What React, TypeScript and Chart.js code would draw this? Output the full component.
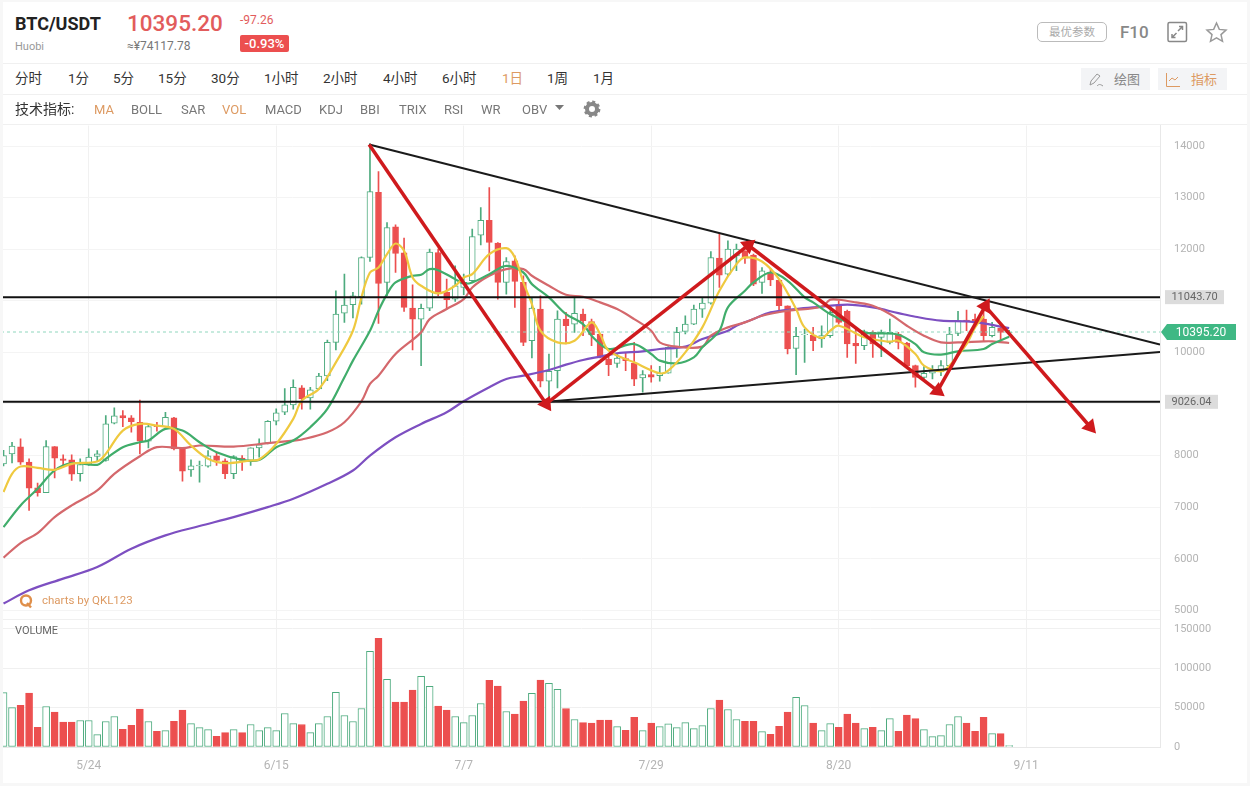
import { useEffect, useRef } from "react";
import { Chart, registerables } from "chart.js";

Chart.register(...registerables);

// one candle per day, index 0 = 5/14, last = 9/9
const opens = [7840,8034,8169,7872,7376,7279,8175,7937,7917,7647,7840,7982,7904,8627,8775,8730,8646,8279,8582,8562,8730,8150,7724,7801,7795,7995,7898,7647,7950,7904,8150,8246,8666,8840,8982,9311,9118,9292,9543,10195,10762,10924,11078,11840,13104,11356,12433,11930,10859,10646,10859,11936,11162,11033,11259,11388,12272,12562,12117,11356,11775,11356,10227,10840,9440,9646,10646,10549,10743,10595,10356,9872,9788,9879,9788,9505,9569,9550,9595,10098,10408,10549,10840,10956,11827,11517,11872,11969,11885,11356,11549,11401,10904,10079,10343,10337,10259,10324,10904,10795,10175,10130,10388,10292,10195,10356,10182,9743,9517,9595,9627,9743,10369,10627,10640,10646,10324,10470,10380];
const highs = [8100,8259,8324,7937,7466,8291,8175,8014,8014,7937,8130,8098,8775,8924,8872,8775,9078,8614,8646,8840,8743,8150,7917,7892,8098,8053,7937,8001,8001,8150,8324,8678,8904,9300,9466,9356,9324,9595,10240,11195,11517,11162,11852,14045,13504,12517,12472,12214,11311,10936,12001,12001,11420,11678,11517,12388,12807,13194,12130,11840,11872,11485,11065,11098,9969,10808,10775,11078,10840,10646,10356,9937,9969,10001,10195,9646,9743,9730,10111,10485,10711,10917,11053,11956,12304,12162,12098,11969,11904,11646,11614,11420,10904,10485,10453,10485,10517,10808,11001,10820,10485,10433,10420,10433,10646,10388,10195,9756,9724,9743,9840,10485,10795,10820,10743,10936,10582,10517,10430];
const lows = [7800,7859,7827,6937,7214,7279,7569,7808,7517,7505,7808,7892,7892,8614,8562,8453,8033,8150,8472,8550,8111,7505,7595,7485,7775,7808,7550,7550,7711,7808,7969,8227,8595,8794,8900,8900,8900,9280,9453,10047,10582,10666,10936,11762,10562,11098,11549,10795,10046,9743,10808,11100,10840,10988,11117,11356,12085,11581,11033,11130,10872,10130,9892,9330,9130,9311,10162,10388,10324,10130,9892,9550,9711,9646,9356,9227,9421,9440,9595,9904,10356,10536,10678,10936,11259,11485,11582,11723,11291,11143,11291,10775,9969,9569,9808,10033,10098,10292,10549,9904,9788,10053,9904,9918,10162,10066,9711,9324,9453,9485,9550,9711,10324,10420,10504,10227,10300,10227,10360];
const closes = [8000,8182,7872,7369,7279,8175,7950,7904,7640,7827,7969,8033,8614,8769,8730,8659,8279,8562,8562,8743,8130,7698,7801,7814,7995,7904,7647,7982,7904,8150,8208,8666,8827,8982,9324,9098,9272,9543,10195,10743,10917,11098,11840,13117,11336,12420,11917,10872,10646,10853,11943,11149,11020,11291,11356,12246,12562,12130,11356,11762,11375,10195,10859,9440,9634,10646,10517,10756,10614,10343,9904,9763,9892,9840,9479,9569,9518,9601,10098,10388,10549,10840,10956,11840,11498,12001,12001,11827,11323,11582,11407,10904,10066,10311,10356,10227,10324,10775,10582,10162,10124,10356,10162,10388,10388,10195,9743,9517,9595,9646,9743,10356,10614,10601,10582,10324,10485,10388,10395.2];
const volumes = [69000,50000,53000,68400,25000,51400,44200,31500,31500,33600,33600,15700,32300,38700,22500,27600,48000,32300,20000,20800,32700,46750,29750,24650,22100,13600,18300,22100,18300,28500,20800,24650,20800,42500,29750,28500,18300,29750,38700,69300,40000,32300,48900,121500,138000,85900,57000,57000,72250,89700,76900,51850,46750,38700,31000,40000,55250,84600,77350,45000,41650,58200,68000,85000,80750,73100,48900,34850,31000,30200,34000,34000,25900,21250,37800,20800,30200,25900,29300,24650,31000,23400,27200,48900,59500,47600,34850,32700,32700,19550,16150,26350,44200,62900,52700,30200,20800,29750,25000,41650,30200,23400,25000,20800,36100,20000,40400,36100,22100,13200,14450,28500,38700,30200,20000,37800,17000,17000,1700];

// moving averages as [day index, value]
const ma5Points = [[0,7292],[1,7646],[2,7788],[4,7763],[6,7724],[8,7840],[11,7885],[12,8033],[14,8485],[16,8614],[18,8582],[20,8517],[22,8195],[24,7937],[26,7853],[29,7904],[30,7924],[32,8227],[34,8711],[35,9065],[37,9291],[39,9807],[41,10420],[42,11066],[43,11549],[44,11646],[45,11904],[46,12110],[47,11969],[48,11452],[49,11291],[51,11143],[53,11291],[54,11452],[55,11517],[57,11904],[59,12020],[60,11840],[61,11356],[62,10936],[63,10420],[65,10195],[67,10227],[69,10582],[70,10356],[71,10033],[74,9808],[77,9595],[78,9647],[80,10001],[82,10485],[84,11195],[86,11711],[87,11840],[89,11762],[91,11420],[93,10840],[94,10485],[96,10279],[97,10420],[98,10517],[101,10292],[103,10227],[104,10208],[105,10227],[107,9969],[108,9743],[110,9634],[111,9743],[113,10162],[114,10485],[115,10700]];
const ma10Points = [[0,6614],[2,7034],[4,7356],[6,7711],[8,7853],[11,7821],[12,7937],[14,8163],[16,8259],[17,8291],[19,8517],[21,8485],[23,8259],[25,8066],[28,7917],[30,7917],[32,8163],[34,8291],[36,8550],[38,8904],[40,9517],[41,9840],[43,10420],[44,10808],[45,11130],[46,11356],[48,11485],[49,11504],[50,11614],[51,11594],[53,11420],[54,11336],[55,11356],[57,11517],[59,11678],[61,11549],[62,11324],[64,11066],[66,10743],[68,10549],[69,10324],[71,10066],[74,10162],[76,9969],[77,9840],[79,9788],[81,9904],[82,10098],[84,10420],[85,10872],[87,11195],[88,11356],[90,11549],[92,11388],[94,11066],[95,10969],[97,10743],[99,10582],[101,10388],[103,10369],[105,10343],[107,10162],[108,10001],[110,9956],[112,10021],[115,10066],[116,10162],[118,10304]];
const ma30Points = [[0,6021],[2,6305],[4,6498],[6,6808],[8,7034],[11,7324],[13,7647],[16,7988],[18,8163],[21,8143],[23,8195],[27,8175],[31,8240],[34,8291],[35,8311],[38,8453],[40,8646],[42,9053],[43,9388],[44,9549],[46,9969],[49,10388],[50,10646],[52,10840],[54,11033],[55,11259],[57,11485],[59,11614],[61,11614],[62,11485],[64,11291],[66,11117],[68,11078],[70,10969],[72,10840],[74,10646],[76,10420],[77,10195],[79,10111],[82,10111],[83,10324],[85,10485],[87,10582],[89,10711],[92,10807],[96,10885],[97,11020],[98,11020],[100,10969],[102,10904],[104,10743],[106,10517],[108,10324],[110,10195],[112,10195],[115,10214],[116,10214],[118,10182]];
const ma60Points = [[0,5131],[3,5389],[7,5615],[11,5840],[15,6195],[19,6453],[23,6634],[27,6808],[31,7001],[34,7163],[38,7453],[41,7711],[43,8001],[46,8356],[49,8614],[52,8840],[54,9053],[57,9324],[59,9485],[61,9549],[64,9659],[66,9763],[68,9853],[70,9918],[72,9982],[75,10021],[77,10066],[80,10111],[82,10259],[85,10420],[86,10517],[88,10646],[90,10775],[93,10840],[95,10872],[99,10924],[102,10872],[105,10762],[107,10691],[110,10614],[113,10601],[115,10562],[117,10500],[118,10470]];

const priceTicks = [5000,6000,7000,8000,9000,10000,11000,12000,13000,14000];
const volumeTicks = [0,50000,100000,150000];
const tickIndexes = [10,32,54,76,98,120];
const tickDates = ["5/24","6/15","7/7","7/29","8/20","9/11"];

const lastPrice = 10395.2;
const upperLevel = 11071;
const lowerLevel = 9042;
const upperLevelLabel = "11043.70";
const lowerLevelLabel = "9026.04";

// hand drawn annotations, [day index, price]
const topTrend = [[42.9,14029],[135.7,10153]];
const bottomTrend = [[63.7,9042],[135.7,10008]];
const arrowPath = [[42.9,14029],[63.67,9003],[87.4,12077],[109.6,9254],[115.2,10898],[127.5,8559]];

const periods = [["分时",15],["1分",68],["5分",113],["15分",158],["30分",211],["1小时",264],["2小时",323],["4小时",383],["6小时",442],["1日",502],["1周",547],["1月",593]];
const indicators = [["MA",94],["BOLL",131],["SAR",181],["VOL",222],["MACD",265],["KDJ",319],["BBI",360],["TRIX",399],["RSI",444],["WR",481],["OBV",522]];
const activeItems = ["1日","MA","VOL"];

const RED = "#ec4f4f";
const GREEN = "#4dab7e";
const ORANGE = "#dd9a62";
const AXIS_TEXT = "#b4b4b4";
const FONT = 'Roboto, "Noto Sans CJK SC", sans-serif';

const toXY = (points: number[][]) => points.map(([x, y]) => ({ x, y }));

function maLine(points: number[][], color: string, order: number) {
  return {
    type: "line",
    data: toXY(points),
    borderColor: color,
    borderWidth: 2.2,
    pointRadius: 0,
    tension: 0.35,
    order,
    yAxisID: "y",
  };
}

function flatLine(data: number[][], color: string, width: number, order: number) {
  return {
    type: "line",
    data: toXY(data),
    borderColor: color,
    borderWidth: width,
    pointRadius: 0,
    tension: 0,
    order,
    yAxisID: "y",
  };
}

function arrowLine(from: number[], to: number[]) {
  return {
    type: "line",
    data: toXY([from, to]),
    borderColor: "#cf1a1d",
    backgroundColor: "#cf1a1d",
    borderWidth: 3.5,
    pointRadius: [0, 9],
    pointBorderWidth: 0,
    pointStyle: "triangle",
    // point the head along the segment, on screen
    pointRotation: (ctx: any) => {
      const { x, y } = ctx.chart.scales;
      const dx = x.getPixelForValue(to[0]) - x.getPixelForValue(from[0]);
      const dy = y.getPixelForValue(to[1]) - y.getPixelForValue(from[1]);
      return (Math.atan2(dx, -dy) * 180) / Math.PI;
    },
    tension: 0,
    order: 5,
    yAxisID: "y",
  };
}

const priceTags = {
  id: "priceTags",
  afterDraw(chart: any) {
    const { ctx, scales } = chart;
    const grayTag = (value: number, text: string, left: number, w: number) => {
      const py = scales.y.getPixelForValue(value);
      ctx.fillStyle = "#dcdcdc";
      ctx.fillRect(left, py - 7, w, 14);
      ctx.fillStyle = "#666";
      ctx.font = `11px ${FONT}`;
      ctx.textAlign = "center";
      ctx.textBaseline = "middle";
      ctx.fillText(text, left + w / 2, py);
    };
    grayTag(upperLevel, upperLevelLabel, 1165, 59);
    grayTag(lowerLevel, lowerLevelLabel, 1165, 53);

    const py = scales.y.getPixelForValue(lastPrice);
    ctx.fillStyle = "#3fb884";
    ctx.beginPath();
    ctx.moveTo(1161, py);
    ctx.lineTo(1167, py - 8);
    ctx.lineTo(1236, py - 8);
    ctx.lineTo(1236, py + 8);
    ctx.lineTo(1167, py + 8);
    ctx.closePath();
    ctx.fill();
    ctx.fillStyle = "#fff";
    ctx.font = `12px ${FONT}`;
    ctx.textAlign = "center";
    ctx.fillText(lastPrice.toFixed(2), 1201, py + 0.5);
  },
};

function KlineChart() {
  const canvasRef = useRef<HTMLCanvasElement>(null);

  useEffect(() => {
    if (!canvasRef.current) return;
    const isUp = (i: number) => closes[i] >= opens[i];
    const days = opens.map((_, i) => i);

    const chart = new Chart(canvasRef.current, {
      type: "bar",
      plugins: [priceTags],
      data: {
        datasets: [
          {
            data: days.map((i) => ({ x: i, y: volumes[i] })),
            backgroundColor: days.map((i) => (isUp(i) ? "#fff" : RED)),
            borderColor: days.map((i) => (isUp(i) ? GREEN : RED)),
            borderWidth: 1,
            borderSkipped: false,
            barThickness: 7,
            grouped: false,
            order: 50,
            yAxisID: "vol",
          },
          {
            data: days.map((i) => ({ x: i, y: [lows[i], highs[i]] })),
            backgroundColor: days.map((i) => (isUp(i) ? GREEN : RED)),
            barThickness: 1,
            grouped: false,
            order: 40,
            yAxisID: "y",
          },
          {
            data: days.map((i) => ({ x: i, y: [opens[i], closes[i]] })),
            backgroundColor: days.map((i) => (isUp(i) ? "#fff" : RED)),
            borderColor: days.map((i) => (isUp(i) ? GREEN : RED)),
            borderWidth: 1,
            borderSkipped: false,
            barThickness: 6,
            grouped: false,
            order: 30,
            yAxisID: "y",
          },
          maLine(ma60Points, "#7d4fc1", 24),
          maLine(ma30Points, "#d4686c", 23),
          maLine(ma10Points, "#40ad6b", 22),
          maLine(ma5Points, "#efc93f", 21),
          {
            ...flatLine([[-1, lastPrice], [136, lastPrice]], "#8fd6bd", 1, 26),
            borderDash: [3, 3],
          },
          flatLine([[-1, upperLevel], [136, upperLevel]], "#111", 2, 10),
          flatLine([[-1, lowerLevel], [136, lowerLevel]], "#111", 2, 10),
          flatLine(topTrend, "#1a1a1a", 2, 9),
          flatLine(bottomTrend, "#1a1a1a", 2, 9),
          ...arrowPath.slice(1).map((p, i) => arrowLine(arrowPath[i], p)),
        ] as any,
      },
      options: {
        animation: false,
        responsive: false,
        layout: { padding: { left: 3 }, autoPadding: false },
        plugins: { legend: { display: false }, tooltip: { enabled: false } },
        scales: {
          x: {
            type: "linear",
            offset: false,
            min: -0.06,
            max: 135.7,
            afterBuildTicks: (scale: any) => {
              scale.ticks = tickIndexes.map((value) => ({ value }));
            },
            afterFit: (scale: any) => {
              scale.height = 39;
            },
            grid: { color: "#f1f1f1", drawTicks: false, offset: false },
            border: { color: "#e8e8e8" },
            ticks: {
              padding: 12,
              maxRotation: 0,
              color: AXIS_TEXT,
              font: { family: FONT, size: 12 },
              callback: (v: any) => tickDates[tickIndexes.indexOf(v)],
            },
          },
          y: {
            position: "right",
            stack: "panels",
            stackWeight: 495,
            min: 4826,
            max: 14396,
            afterBuildTicks: (scale: any) => {
              scale.ticks = priceTicks.map((value) => ({ value }));
            },
            afterFit: (scale: any) => {
              scale.width = 90;
            },
            grid: { color: "#f4f4f4", drawTicks: false },
            border: { color: "#e8e8e8" },
            ticks: {
              padding: 14,
              color: AXIS_TEXT,
              font: { family: FONT, size: 11 },
              callback: (v: any) => String(v),
            },
          },
          vol: {
            position: "right",
            stack: "panels",
            stackWeight: 128,
            min: 0,
            max: 162000,
            afterBuildTicks: (scale: any) => {
              // the extra line at the top is the panel separator
              scale.ticks = [...volumeTicks, 162000].map((value) => ({ value }));
            },
            afterFit: (scale: any) => {
              scale.width = 90;
            },
            grid: { color: "#f0f0f0", drawTicks: false },
            border: { color: "#e8e8e8" },
            ticks: {
              padding: 14,
              color: AXIS_TEXT,
              font: { family: FONT, size: 11 },
              callback: (v: any) => (volumeTicks.includes(v) ? String(v) : ""),
            },
          },
        },
      } as any,
    });

    return () => chart.destroy();
  }, []);

  // the stacked axes leave 19px free above the plot, so the canvas starts 19px higher
  return (
    <canvas
      ref={canvasRef}
      width={1250}
      height={681}
      style={{ position: "absolute", left: 0, top: 105, width: 1250, height: 681 }}
    />
  );
}

function Label({ x, y, size, color, weight, children }: any) {
  return (
    <div
      style={{
        position: "absolute",
        left: x,
        top: y,
        transform: "translateY(-50%)",
        fontSize: size,
        color,
        fontWeight: weight ?? 400,
        whiteSpace: "nowrap",
        lineHeight: 1,
      }}
    >
      {children}
    </div>
  );
}

const rule = (top: number) => (
  <div style={{ position: "absolute", left: 3, width: 1244, top, height: 1, background: "#f0f0f0" }} />
);

export default function App() {
  useEffect(() => {
    document.body.style.margin = "0";
  }, []);

  return (
    <div style={{ position: "relative", width: 1250, height: 786, background: "#f7f7f7", overflow: "hidden", fontFamily: FONT }}>
      <div style={{ position: "absolute", left: 3, top: 2, width: 1244, height: 781, background: "#fff" }} />
      {rule(63)}
      {rule(94)}
      {rule(124)}
      <KlineChart />

      <Label x={15} y={24} size={18} color="#222" weight={700}>BTC/USDT</Label>
      <Label x={15} y={46} size={11} color="#999">Huobi</Label>
      <Label x={127} y={23} size={22.5} color="#e25c5c" weight={500}>10395.20</Label>
      <Label x={127} y={46} size={12} color="#777">≈¥74117.78</Label>
      <Label x={240} y={20} size={12} color="#e25c5c">-97.26</Label>
      <div style={{ position: "absolute", left: 240, top: 35, width: 49, height: 17, background: RED, borderRadius: 2, color: "#fff", fontSize: 13, fontWeight: 500, lineHeight: "17px", textAlign: "center" }}>-0.93%</div>

      {periods.map(([text, x]) => (
        <Label key={text} x={x} y={79} size={13.5} color={activeItems.includes(text as string) ? ORANGE : "#333"}>{text}</Label>
      ))}
      <Label x={15} y={109} size={14} color="#333">技术指标:</Label>
      {indicators.map(([text, x]) => (
        <Label key={text} x={x} y={109} size={13} color={activeItems.includes(text as string) ? ORANGE : "#777"}>{text}</Label>
      ))}
      <svg style={{ position: "absolute", left: 555, top: 105, width: 10, height: 6 }}><path d="M0 0H9L4.5 5Z" fill="#777" /></svg>
      <svg style={{ position: "absolute", left: 583, top: 100, width: 18, height: 18 }}>
        <circle cx="9" cy="9" r="5" fill="none" stroke="#888" strokeWidth="4" />
        <circle cx="9" cy="9" r="7.2" fill="none" stroke="#888" strokeWidth="2.4" strokeDasharray="3 2.65" />
      </svg>

      <div style={{ position: "absolute", left: 1037, top: 22, width: 68, height: 18, border: "1px solid #bbb", borderRadius: 5, color: "#aaa", fontSize: 11.5, lineHeight: "18px", textAlign: "center" }}>最优参数</div>
      <Label x={1120} y={32} size={17} color="#888" weight={500}>F10</Label>
      <svg style={{ position: "absolute", left: 1167, top: 21, width: 21, height: 22 }} fill="none" stroke="#888" strokeWidth="1.5">
        <rect x="1" y="1.5" width="18.5" height="19" rx="1.5" />
        <path d="M11 10 15.5 5.5M12 5.5H15.5V9M9.5 12 5 16.5M8.5 16.5H5V13" />
      </svg>
      <svg style={{ position: "absolute", left: 1205, top: 21, width: 23, height: 22 }} fill="none" stroke="#999" strokeWidth="1.5">
        <path d="M11.5 2 14.3 8.4 21 9 16 13.6 17.5 20.3 11.5 16.8 5.5 20.3 7 13.6 2 9 8.7 8.4Z" />
      </svg>

      <div style={{ position: "absolute", left: 1081, top: 68, width: 69, height: 22, background: "#f3f4f6" }} />
      <svg style={{ position: "absolute", left: 1088, top: 72, width: 16, height: 16 }} fill="none" stroke="#999" strokeWidth="1">
        <path d="M2 13 3 9 9 2 12 4 6 11ZM9 14C11 12 12 12 15 14" />
      </svg>
      <Label x={1114} y={79} size={13} color="#888">绘图</Label>
      <div style={{ position: "absolute", left: 1158, top: 68, width: 69, height: 22, background: "#f3f4f6" }} />
      <svg style={{ position: "absolute", left: 1165, top: 72, width: 16, height: 16 }} fill="none" stroke={ORANGE} strokeWidth="1">
        <path d="M1.5 1V14.5H15M4 9 7 6 10 8 13 5" />
      </svg>
      <Label x={1191} y={79} size={13} color={ORANGE}>指标</Label>

      <svg style={{ position: "absolute", left: 18, top: 593, width: 16, height: 16 }} fill="none" stroke="#df8f4a" strokeWidth="2.4">
        <circle cx="8" cy="7.5" r="5" />
        <path d="M9 10 13 14.5" />
      </svg>
      <Label x={42} y={601} size={11.5} color={ORANGE}>charts by QKL123</Label>
      <Label x={15} y={630} size={11} color="#666">VOLUME</Label>
    </div>
  );
}
